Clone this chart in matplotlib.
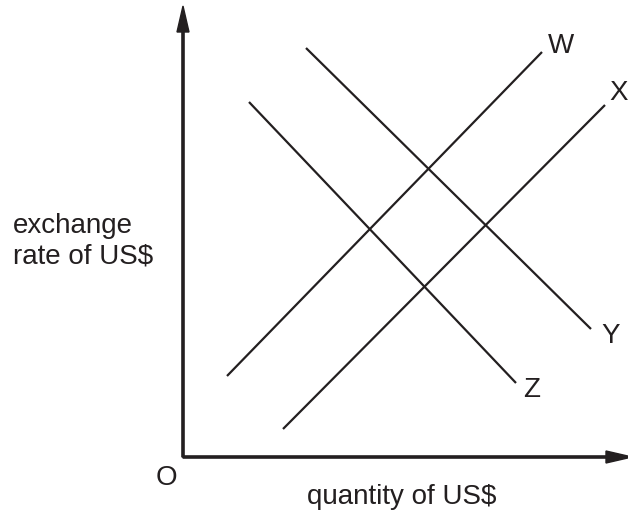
import matplotlib.pyplot as plt

# line segments (pixel-like units, origin top-left), end label positions
names = ['W', 'X', 'Y', 'Z']
x_start = [227, 283, 306, 249]
y_start = [376, 429, 48, 102]
x_end = [542, 605, 591, 516]
y_end = [52, 105, 329, 383]
lab_x = [561, 619, 611, 532]
lab_y = [46, 93, 336, 390]

ink = '#231f20'
fs = 20

fig = plt.figure(figsize=(6.28, 5.14), dpi=100)
ax = fig.add_axes([0, 0, 1, 1])
ax.set_xlim(0, 628)
ax.set_ylim(514, 0)
ax.axis('off')

# axes with arrows
ax.arrow(183, 457, 0, -451, width=2.2, head_width=12, head_length=26,
         length_includes_head=True, color=ink)
ax.arrow(183, 457, 449, 0, width=2.2, head_width=12, head_length=26,
         length_includes_head=True, color=ink)

for n, xs, ys, xe, ye, lx, ly in zip(names, x_start, y_start, x_end, y_end, lab_x, lab_y):
    ax.plot([xs, xe], [ys, ye], color=ink, lw=1.6, solid_capstyle='butt')
    ax.text(lx, ly, n, fontsize=fs, family='Liberation Sans', color=ink,
            ha='center', va='center')

ax.text(166, 478, 'O', fontsize=fs, family='Liberation Sans', color=ink,
        ha='center', va='center')
ax.text(402, 497, 'quantity of US$', fontsize=fs, family='Liberation Sans',
        color=ink, ha='center', va='center')
ax.text(13, 241, 'exchange\nrate of US$', fontsize=fs, family='Liberation Sans',
        color=ink, ha='left', va='center', linespacing=1.2)

plt.savefig('out.png', dpi=100)
